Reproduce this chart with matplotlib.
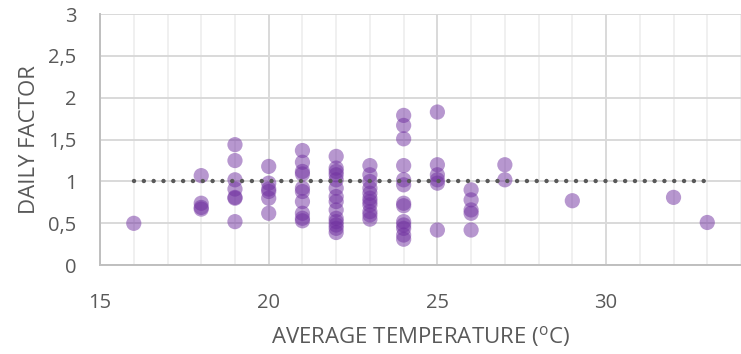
import numpy as np
import matplotlib.pyplot as plt
from matplotlib.ticker import MultipleLocator, FuncFormatter

plt.rcParams['font.family'] = ['Open Sans', 'DejaVu Sans']
plt.rcParams['mathtext.fontset'] = 'custom'
plt.rcParams['mathtext.rm'] = 'Open Sans'

# daily factor readings grouped by average temperature
temp_groups = [16, 18, 19, 20, 21, 22, 23, 24, 25, 26, 27, 29, 32, 33]
factor_groups = [
    [0.50],
    [1.07, 0.74, 0.69, 0.67],
    [1.44, 1.25, 1.02, 0.91, 0.81, 0.80, 0.52],
    [1.18, 0.98, 0.91, 0.88, 0.80, 0.62],
    [1.37, 1.23, 1.12, 1.09, 0.92, 0.88, 0.76, 0.62, 0.56, 0.53],
    [1.30, 1.16, 1.12, 1.08, 1.02, 0.92, 0.82, 0.76, 0.66, 0.56, 0.52, 0.48, 0.44, 0.39],
    [1.19, 1.08, 1.00, 0.92, 0.86, 0.80, 0.76, 0.72, 0.64, 0.60, 0.55],
    [1.79, 1.67, 1.51, 1.19, 1.02, 0.96, 0.74, 0.71, 0.52, 0.48, 0.44, 0.36, 0.31],
    [1.83, 1.20, 1.08, 1.02, 0.98, 0.42],
    [0.90, 0.78, 0.66, 0.62, 0.42],
    [1.20, 1.02],
    [0.77],
    [0.81],
    [0.51],
]
ref_x = [16, 33]
ref_y = [1, 1]

temps = []
factors = []
for t, vals in zip(temp_groups, factor_groups):
    for v in vals:
        temps.append(t)
        factors.append(v)

fig = plt.figure(figsize=(7.41, 3.54), dpi=100)
ax = fig.add_axes([0.135, 0.251, 0.865, 0.709])

ax.scatter(temps, factors, s=120, color='#7030A0', alpha=0.5, edgecolors='none', zorder=3)
ax.plot(ref_x, ref_y, color='#595959', linestyle=(0, (0.01, 2.2)), linewidth=3.2,
        dash_capstyle='round', zorder=4)

ax.set_xlim(15, 34)
ax.set_ylim(0, 3)
ax.xaxis.set_major_locator(MultipleLocator(5))
ax.xaxis.set_minor_locator(MultipleLocator(1))
ax.yaxis.set_major_locator(MultipleLocator(0.5))
ax.yaxis.set_major_formatter(FuncFormatter(lambda v, p: f"{v:g}".replace('.', ',')))

ax.grid(True, which='major', color='#D9D9D9', linewidth=1.4, zorder=0)
ax.grid(True, which='minor', axis='x', color='#EDEDED', linewidth=1.2, zorder=0)
ax.set_axisbelow(True)

for side in ['top', 'right']:
    ax.spines[side].set_visible(False)
for side in ['left', 'bottom']:
    ax.spines[side].set_color('#BFBFBF')
    ax.spines[side].set_linewidth(1.4)

ax.tick_params(which='both', length=0, labelsize=14.5, colors='#595959')
ax.tick_params(axis='x', pad=20)
ax.tick_params(axis='y', pad=17)

ax.set_xlabel(r'AVERAGE TEMPERATURE ($^{\mathrm{o}}$C)', fontsize=16, color='#595959', labelpad=8)
ax.set_ylabel('DAILY FACTOR', fontsize=16, color='#595959', labelpad=6)

fig.savefig('out.png', dpi=100)
